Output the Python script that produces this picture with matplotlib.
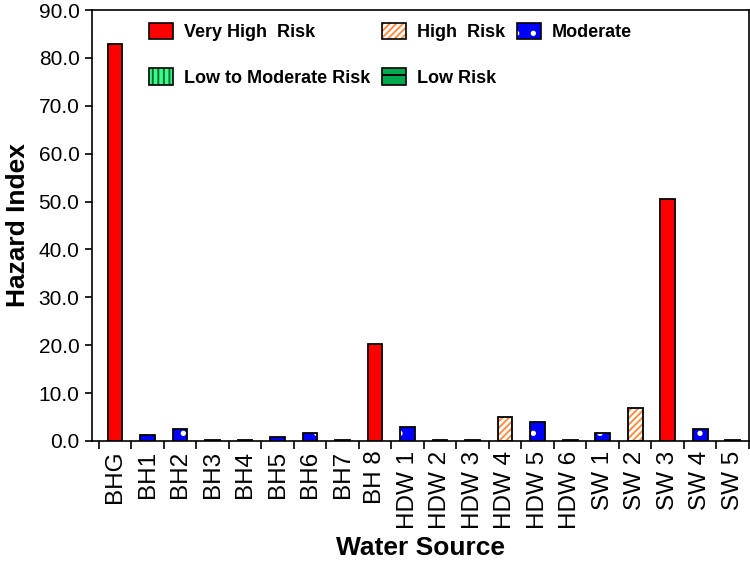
import numpy as np
import matplotlib.pyplot as plt
from matplotlib.patches import Patch
from matplotlib.legend_handler import HandlerTuple

plt.rcParams['font.family'] = ['Liberation Sans', 'DejaVu Sans']
plt.rcParams['hatch.linewidth'] = 1.4

# data
sources = ['BHG', 'BH1', 'BH2', 'BH3', 'BH4', 'BH5', 'BH6', 'BH7', 'BH 8',
           'HDW 1', 'HDW 2', 'HDW 3', 'HDW 4', 'HDW 5', 'HDW 6',
           'SW 1', 'SW 2', 'SW 3', 'SW 4', 'SW 5']
hazard = [83.0, 1.3, 2.6, 0.2, 0.2, 0.9, 1.7, 0.2, 20.3,
          3.0, 0.2, 0.2, 5.1, 4.0, 0.2,
          1.7, 6.8, 50.5, 2.6, 0.2]
risk = ['vhr', 'mod', 'mod', 'low', 'low', 'mod', 'mod', 'low', 'vhr',
        'mod', 'low', 'low', 'high', 'mod', 'low',
        'mod', 'high', 'vhr', 'mod', 'low']

# style per risk class: face, hatch colour, hatch
styles = {
    'vhr':  ('#ff0000', '#ff0000', None),
    'high': ('white', '#ff8c3c', '/////'),
    'mod':  ('#0000ff', 'white', '.'),
    'lmr':  ('#33ff88', '#116633', '|||'),
    'low':  ('#00a84f', 'black', '-'),
}
labels = {
    'vhr': 'Very High  Risk',
    'high': 'High  Risk',
    'mod': 'Moderate',
    'lmr': 'Low to Moderate Risk',
    'low': 'Low Risk',
}

fig = plt.figure(figsize=(7.5, 5.62), dpi=100)
ax = fig.add_axes([92 / 750, 1 - 441 / 562, 657 / 750, 431 / 562])

x = np.arange(len(sources))
w = 0.45
for key in styles:
    idx = [i for i, r in enumerate(risk) if r == key]
    if not idx:
        continue
    face, hc, hatch = styles[key]
    vals = [hazard[i] for i in idx]
    ax.bar(x[idx], vals, w, color=face, edgecolor=hc, hatch=hatch, linewidth=0)
    ax.bar(x[idx], vals, w, facecolor='none', edgecolor='black', linewidth=1.3)

ax.set_xlim(-0.71, len(sources) - 0.51)
ax.set_ylim(0, 90)
ax.set_yticks(np.arange(0, 91, 10))
ax.set_yticklabels([f'{v:.1f}' for v in np.arange(0, 91, 10)], fontsize=15)
ax.set_xticks(x)
ax.set_xticklabels(sources, rotation=90, fontsize=17.5)
ax.set_xticks(np.arange(-0.5, len(sources) - 0.4, 1), minor=True)
ax.tick_params(axis='x', which='major', length=0, pad=7)
ax.tick_params(axis='x', which='minor', length=6, width=1.2, direction='out')
ax.tick_params(axis='y', length=5, width=1.2, direction='out', pad=4)
for s in ax.spines.values():
    s.set_linewidth(1.2)

ax.set_ylabel('Hazard Index', fontsize=19, fontweight='bold', labelpad=6)
ax.set_xlabel('Water Source', fontsize=19, fontweight='bold', labelpad=5)

# legend: three columns placed separately, layered patches for hatch colour
def make_handle(key):
    face, hc, hatch = styles[key]
    p1 = Patch(facecolor=face, edgecolor=hc, hatch=hatch, linewidth=0)
    p2 = Patch(facecolor='none', edgecolor='black', linewidth=1.2)
    return (p1, p2)

columns = [(['vhr', 'lmr'], 149), (['high', 'low'], 382), (['mod'], 517)]
for keys, xpos in columns:
    leg = fig.legend([make_handle(k) for k in keys], [labels[k] for k in keys],
                     handler_map={tuple: HandlerTuple(ndivide=1, pad=0)},
                     loc='upper left', bbox_to_anchor=(xpos / 750, 1 - 23 / 562),
                     frameon=False, borderpad=0, borderaxespad=0,
                     handlelength=1.35, handleheight=1.0, handletextpad=0.6,
                     labelspacing=1.5, prop={'size': 13, 'weight': 'bold'})

fig.savefig('out.png', dpi=100)
